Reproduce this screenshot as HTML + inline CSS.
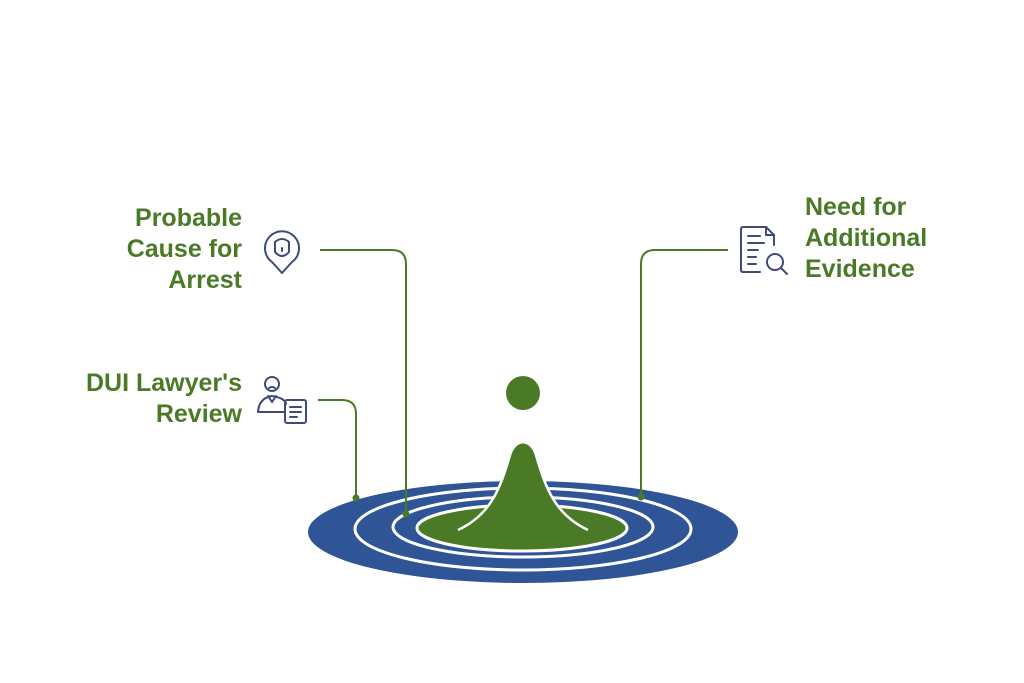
<!DOCTYPE html>
<html><head><meta charset="utf-8"><style>
body{margin:0;background:#fff;width:1024px;height:683px;overflow:hidden;position:relative;font-family:"Liberation Sans",sans-serif}
.t{position:absolute;color:#4b7a27;font-weight:bold;font-size:25px;line-height:31px}
</style></head><body>
<svg width="1024" height="683" style="position:absolute;left:0;top:0">
<ellipse cx="523" cy="532" rx="215" ry="51" fill="#2f5597"/>
<ellipse cx="523" cy="529" rx="168" ry="41" fill="none" stroke="#fff" stroke-width="3"/>
<ellipse cx="523" cy="527" rx="130" ry="30" fill="none" stroke="#fff" stroke-width="3"/>
<ellipse cx="522" cy="528" rx="105" ry="23" fill="#4b7a27" stroke="#fff" stroke-width="3"/>
<path d="M458 530 C490 515 500 490 510 455 C515 438 531 438 536 455 C546 490 556 515 588 530 Z" fill="#4b7a27"/>
<path d="M458 530 C490 515 500 490 510 455 C515 438 531 438 536 455 C546 490 556 515 588 530" fill="none" stroke="#fff" stroke-width="2.5"/>
<circle cx="523" cy="393" r="17" fill="#4b7a27"/>
<g fill="none" stroke="#4b7a27" stroke-width="2">
<path d="M320 250 H392 Q406 250 406 264 V514"/>
<path d="M318 400 H342 Q356 400 356 414 V498"/>
<path d="M728 250 H655 Q641 250 641 264 V497"/>
</g>
<g fill="#4b7a27"><circle cx="406" cy="514" r="3.5"/><circle cx="356" cy="498" r="3.5"/><circle cx="641" cy="497" r="3.5"/></g>
<g fill="none" stroke="#3d4b7a" stroke-width="2" stroke-linecap="round" stroke-linejoin="round">
<path d="M282 273 L272 262 A17 17 0 1 1 292 262 Z"/>
<path d="M275 242 Q282 236 289 242 V252 Q282 260 275 252 Z"/>
<path d="M282 248 V251"/>
<circle cx="272" cy="384" r="7"/>
<path d="M269 388 Q272 386 275 388"/>
<path d="M258 412 Q259 398 272 396 Q285 398 286 404"/>
<path d="M258 412 H284"/><path d="M268 396 L272 402 L276 396"/>
<rect x="285" y="400" width="21" height="23" rx="2"/>
<path d="M290 407 H301 M290 412 H301 M290 417 H297"/>
<path d="M760 272 H743 Q741 272 741 270 V229 Q741 227 743 227 H766 L774 235 V245"/>
<path d="M766 227 V235 H774"/>
<path d="M748 236 H760 M748 243 H764 M748 250 H758 M748 257 H756 M748 264 H756"/>
<circle cx="775" cy="262" r="8"/><path d="M781 268 L787 274"/>
</g>
</svg>
<div class="t" style="right:782px;top:203px;text-align:right">Probable<br>Cause for<br>Arrest</div>
<div class="t" style="right:782px;top:368px;text-align:right">DUI Lawyer's<br>Review</div>
<div class="t" style="left:805px;top:192px">Need for<br>Additional<br>Evidence</div>
</body></html>
